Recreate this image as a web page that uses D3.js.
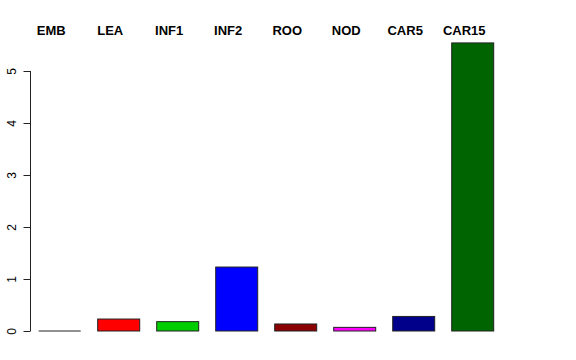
<!DOCTYPE html>
<html>
<head>
<meta charset="utf-8">
<script src="https://cdn.jsdelivr.net/npm/d3@7"></script>
<style>
  body { margin: 0; background: #fff; }
  svg { display: block; font-family: "Liberation Sans", Arial, sans-serif; }
</style>
</head>
<body>
<script>
const categories = ['EMB', 'LEA', 'INF1', 'INF2', 'ROO', 'NOD', 'CAR5', 'CAR15']
const values = [0, 0.23, 0.18, 1.23, 0.135, 0.07, 0.28, 5.54]
const colors = ['#000000', '#ff0000', '#00cd00', '#0000ff', '#8b0000', '#ff00ff', '#00008b', '#006400']
const yTicks = [0, 1, 2, 3, 4, 5]

const W = 576, H = 360

const svg = d3.select('body').append('svg')
  .attr('width', W)
  .attr('height', H)

// band: step 59, bar 42
const x = d3.scaleBand()
  .domain(categories)
  .range([30.2, 30.2 + 8 * 59])
  .paddingInner(17 / 59)
  .paddingOuter(17 / 59 / 2)

const y = d3.scaleLinear()
  .domain([0, 5])
  .range([331, 71])

// bars
svg.selectAll('rect.bar')
  .data(categories)
  .join('rect')
  .attr('class', 'bar')
  .attr('x', d => x(d))
  .attr('width', x.bandwidth())
  .attr('y', (d, i) => y(values[i]))
  .attr('height', (d, i) => y(0) - y(values[i]))
  .attr('fill', (d, i) => colors[i])
  .attr('stroke', '#222')
  .attr('stroke-width', 1)

// zero-height bar still shows its outline
svg.selectAll('line.zero')
  .data(categories.filter((d, i) => values[i] === 0))
  .join('line')
  .attr('x1', d => x(d))
  .attr('x2', d => x(d) + x.bandwidth())
  .attr('y1', y(0))
  .attr('y2', y(0))
  .attr('stroke', '#222')

// category labels on top
svg.selectAll('text.cat')
  .data(categories)
  .join('text')
  .attr('class', 'cat')
  .attr('x', d => x(d) + x.bandwidth() / 2 - 8.5)
  .attr('y', 35)
  .attr('text-anchor', 'middle')
  .attr('font-weight', 'bold')
  .attr('font-size', 13)
  .text(d => d)

// y axis, R style
const axisX = 30.5
const yAxis = d3.axisLeft(y)
  .tickValues(yTicks)
  .tickSize(7)
  .tickFormat(d3.format('d'))

const g = svg.append('g')
  .attr('transform', `translate(${axisX},0)`)
  .call(yAxis)

g.select('.domain')
  .attr('d', `M0,${y(0)}V${y(5)}`)
  .attr('stroke', '#222')
g.selectAll('.tick line').attr('stroke', '#222')
g.selectAll('.tick text')
  .attr('x', null)
  .attr('dy', null)
  .attr('text-anchor', 'middle')
  .attr('font-size', 12)
  .attr('font-family', '"Liberation Sans", Arial, sans-serif')
  .attr('fill', '#000')
  .attr('transform', 'translate(-14.5,0) rotate(-90)')
</script>
</body>
</html>
